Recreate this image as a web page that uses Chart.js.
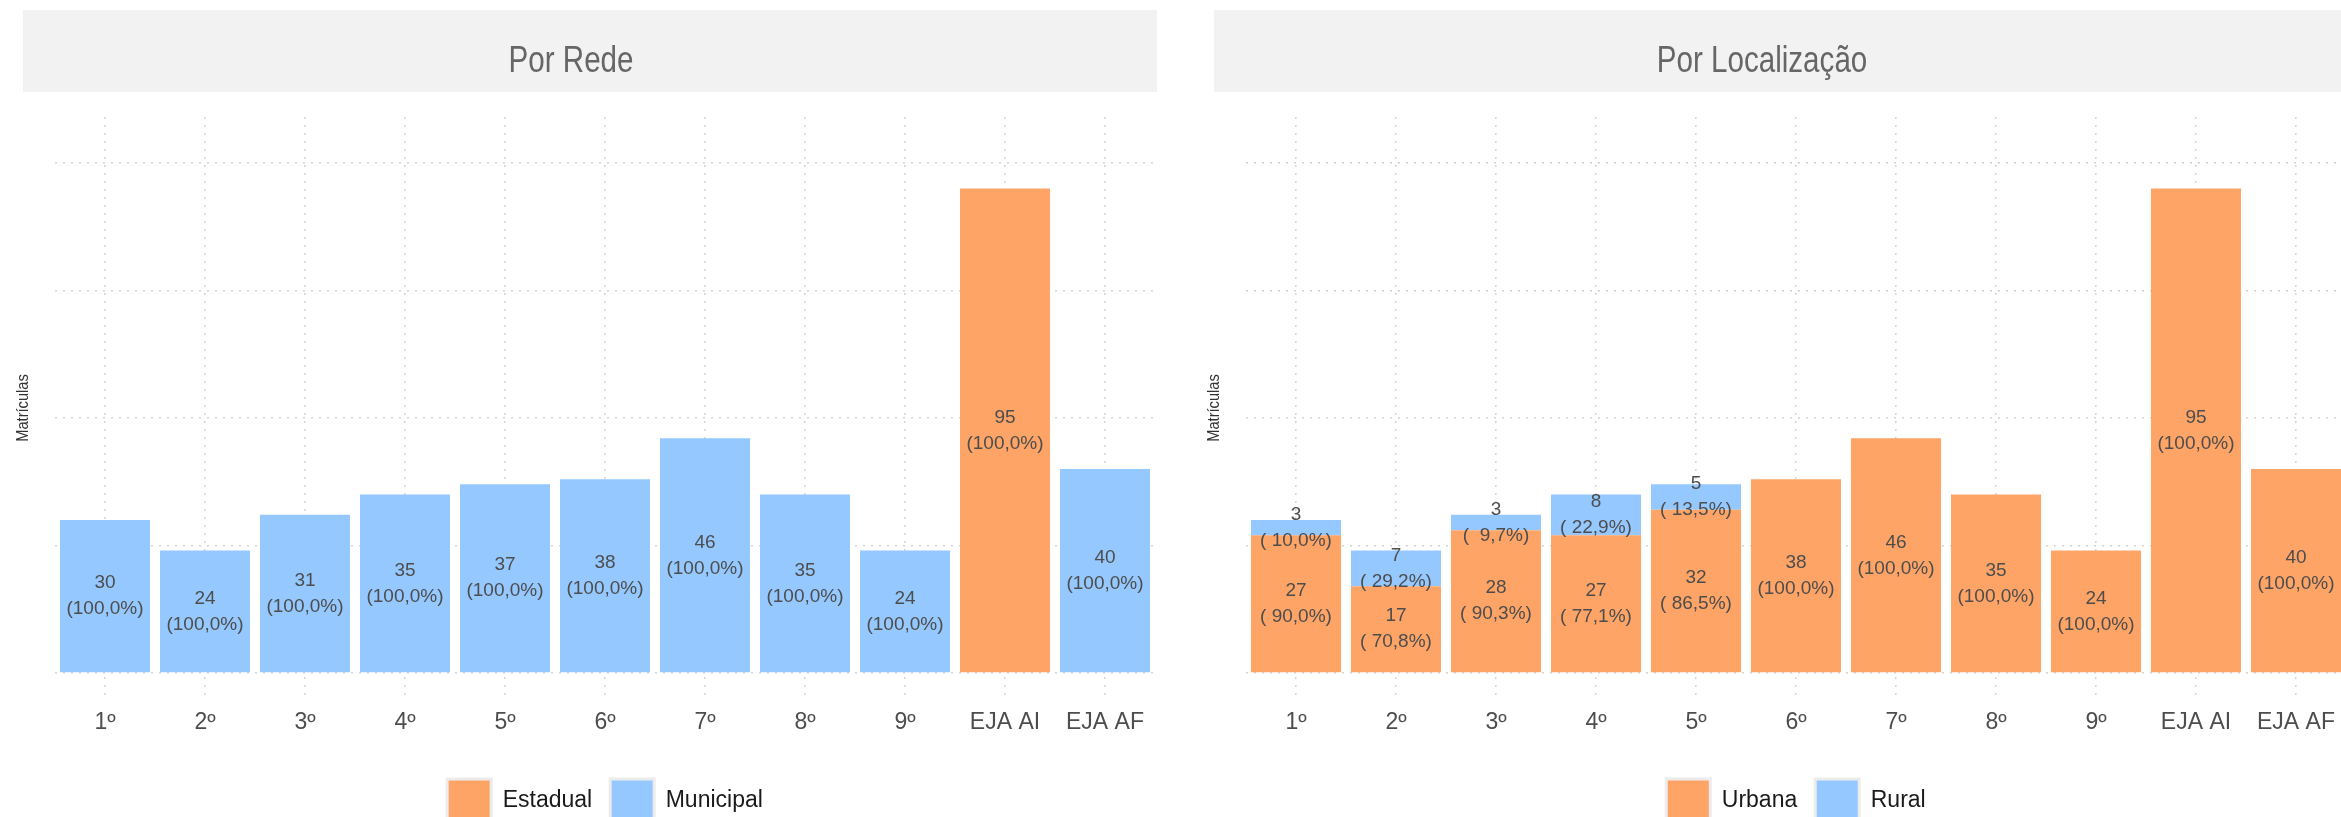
<!DOCTYPE html>
<html>
<head>
<meta charset="utf-8">
<script src="https://cdn.jsdelivr.net/npm/chart.js@4.4.1/dist/chart.umd.min.js"></script>
<style>
html, body { margin: 0; padding: 0; background: #fff; overflow: hidden; width: 2341px; height: 817px; }
canvas { position: absolute; top: 0; }
#rede { left: 0; }
#local { left: 1191px; }
</style>
</head>
<body>
<canvas id="rede" width="1200" height="833"></canvas>
<canvas id="local" width="1200" height="833"></canvas>
<script>
// dados
const series = ['1º', '2º', '3º', '4º', '5º', '6º', '7º', '8º', '9º', 'EJA AI', 'EJA AF'];
const estadual = [0, 0, 0, 0, 0, 0, 0, 0, 0, 95, 0];
const municipal = [30, 24, 31, 35, 37, 38, 46, 35, 24, 0, 40];
const urbana = [27, 17, 28, 27, 32, 38, 46, 35, 24, 95, 40];
const rural = [3, 7, 3, 8, 5, 0, 0, 0, 0, 0, 0];
const yTicks = [0, 25, 50, 75, 100];

const laranja = '#FDA466';
const azul = '#94C8FE';
const sans = '"Liberation Sans", Arial, Helvetica, sans-serif';

// faixa cinza com o titulo + titulo do eixo y
const strip = {
    id: 'strip',
    beforeDraw(chart, args, opts) {
        const ctx = chart.ctx;
        const a = chart.chartArea;
        ctx.save();
        ctx.fillStyle = '#f2f2f2';
        ctx.fillRect(a.left - 32, 10, a.right - a.left + 34, 82);
        ctx.fillStyle = '#666666';
        ctx.font = '37px ' + sans;
        ctx.textAlign = 'center';
        ctx.textBaseline = 'alphabetic';
        ctx.translate((a.left + a.right) / 2 - 34, 72);
        ctx.scale(0.8, 1);
        ctx.fillText(opts.text, 0, 0);
        ctx.restore();

        ctx.save();
        ctx.translate(23, (a.top + a.bottom) / 2);
        ctx.rotate(-Math.PI / 2);
        ctx.scale(0.86, 1);
        ctx.fillStyle = '#333333';
        ctx.font = '17px ' + sans;
        ctx.textAlign = 'center';
        ctx.textBaseline = 'middle';
        ctx.fillText('Matrículas', 0, 0);
        ctx.restore();
    }
};

// rotulos "valor (pct%)" no meio de cada segmento
const barLabels = {
    id: 'barLabels',
    afterDatasetsDraw(chart) {
        const ctx = chart.ctx;
        const ds = chart.data.datasets;
        ctx.save();
        ctx.font = '19px ' + sans;
        ctx.fillStyle = '#4d4d4d';
        ctx.textAlign = 'center';
        ctx.textBaseline = 'middle';
        ds.forEach((d, i) => {
            chart.getDatasetMeta(i).data.forEach((bar, j) => {
                const v = d.data[j];
                if (!v) return;
                const total = ds.reduce((s, x) => s + x.data[j], 0);
                const pct = (v / total * 100).toFixed(1).replace('.', ',');
                const yMid = (bar.y + bar.base) / 2;
                ctx.fillText(String(v), bar.x, yMid - 13);
                ctx.fillText('(' + pct.padStart(5, ' ') + '%)', bar.x, yMid + 13);
            });
        });
        ctx.restore();
    }
};

function makeChart(id, title, names, values) {
    const colors = [laranja, azul];
    return new Chart(document.getElementById(id), {
        type: 'bar',
        data: {
            labels: series,
            datasets: names.map((n, i) => ({
                label: n,
                data: values[i],
                backgroundColor: colors[i],
                borderWidth: 0,
                barPercentage: 0.9,
                categoryPercentage: 1
            }))
        },
        plugins: [strip, barLabels],
        options: {
            responsive: false,
            animation: false,
            devicePixelRatio: 1,
            layout: { padding: { top: 117, left: 55, right: 45, bottom: 0 } },
            scales: {
                x: {
                    stacked: true,
                    offset: true,
                    grid: { offset: false, color: '#d4d4d4', lineWidth: 1.5, drawTicks: false },
                    border: { display: false, dash: [2, 6] },
                    ticks: {
                        color: '#4d4d4d',
                        font: { family: sans, size: 23 },
                        padding: 10,
                        maxRotation: 0,
                        autoSkip: false
                    },
                    afterFit: s => { s.height = 62; }
                },
                y: {
                    stacked: true,
                    min: -5.1,
                    max: 109,
                    grid: { color: '#d4d4d4', lineWidth: 1.5, drawTicks: false },
                    border: { display: false, dash: [2, 6] },
                    ticks: { display: false },
                    afterBuildTicks: s => { s.ticks = yTicks.map(v => ({ value: v })); },
                    afterFit: s => { s.width = 0; }
                }
            },
            plugins: {
                strip: { text: title },
                tooltip: { enabled: false },
                legend: {
                    position: 'bottom',
                    labels: {
                        boxWidth: 44,
                        boxHeight: 44,
                        padding: 18,
                        color: '#1a1a1a',
                        font: { family: sans, size: 23 },
                        generateLabels: chart => {
                            const items = Chart.defaults.plugins.legend.labels.generateLabels(chart);
                            items.forEach(it => { it.strokeStyle = '#ececec'; it.lineWidth = 3; });
                            return items;
                        }
                    }
                }
            }
        }
    });
}

makeChart('rede', 'Por Rede', ['Estadual', 'Municipal'], [estadual, municipal]);
makeChart('local', 'Por Localização', ['Urbana', 'Rural'], [urbana, rural]);
</script>
</body>
</html>
